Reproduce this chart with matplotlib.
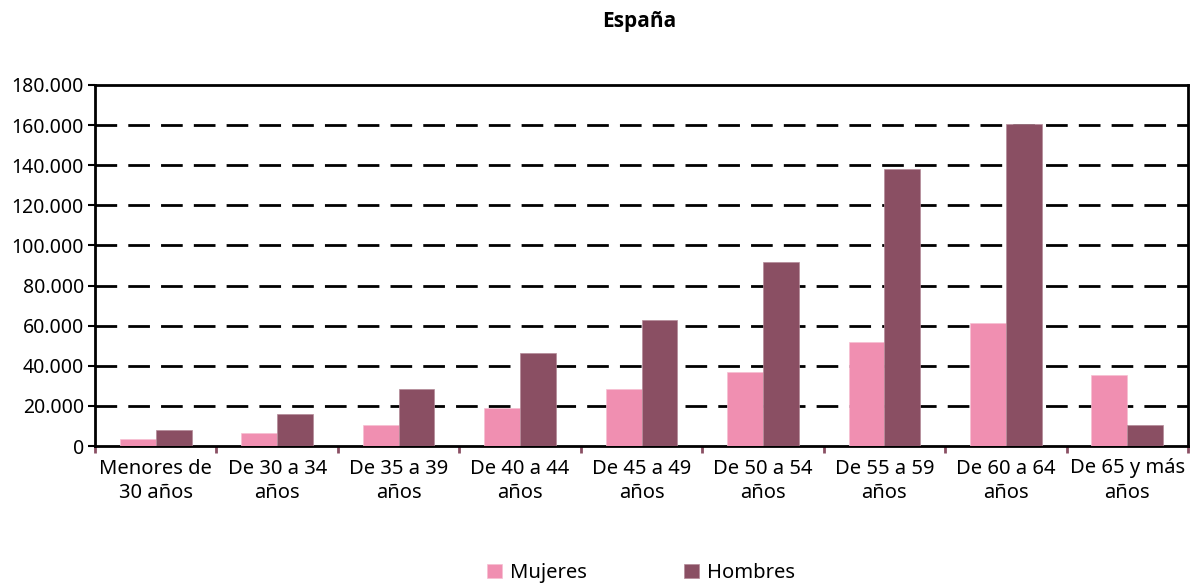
import matplotlib
matplotlib.use("Agg")
import matplotlib.pyplot as plt
import numpy as np
from matplotlib.ticker import FuncFormatter, FixedLocator

plt.rcParams['font.family'] = ['Noto Sans', 'DejaVu Sans']

categories = ["Menores de\n30 años", "De 30 a 34\naños", "De 35 a 39\naños",
              "De 40 a 44\naños", "De 45 a 49\naños", "De 50 a 54\naños",
              "De 55 a 59\naños", "De 60 a 64\naños", "De 65 y más\naños"]
mujeres = [3600, 6500, 10500, 18900, 28400, 36700, 51700, 61200, 35200]
hombres = [7800, 16100, 28400, 46200, 62800, 91600, 138300, 160400, 10300]
yticks = [0, 20000, 40000, 60000, 80000, 100000, 120000, 140000, 160000, 180000]

c_muj = "#F08FB1"
c_hom = "#8A4F63"

fig = plt.figure(figsize=(12.04, 5.84), dpi=100)
ax = fig.add_axes([95/1204, 1-446/584, (1188-95)/1204, (446-85)/584])

x = np.arange(len(categories))
w = 0.295
ax.bar(x - w/2, mujeres, w, color=c_muj, edgecolor="#F6C0D2", linewidth=0.5, label="Mujeres", zorder=3)
ax.bar(x + w/2, hombres, w, color=c_hom, edgecolor="#B48A98", linewidth=0.5, label="Hombres", zorder=3)

ax.set_xlim(-0.5, len(categories) - 0.5)
ax.set_ylim(0, 180000)
ax.set_yticks(yticks)
ax.yaxis.set_major_formatter(FuncFormatter(lambda v, p: f"{int(v):,}".replace(",", ".")))

for v in yticks[1:-1]:
    ax.axhline(v, color="black", lw=2.0, linestyle=(0, (7.8, 4.0)), zorder=2)

ax.set_xticks(x)
ax.set_xticklabels(categories, fontsize=14.5, linespacing=1.3)
ax.tick_params(axis='x', which='major', length=0, pad=9)
ax.xaxis.set_minor_locator(FixedLocator(np.arange(-0.5, len(categories), 1.0)))
ax.tick_params(axis='x', which='minor', length=5, width=2, color=c_hom, direction='out')
ax.tick_params(axis='y', length=5, width=1.5, labelsize=14, pad=3)

for s in ax.spines.values():
    s.set_linewidth(2)
    s.set_color("black")

fig.text(639/1204, 1-22/584, "España", ha="center", va="center", fontsize=15,
         fontweight="bold", family=["Open Sans", "DejaVu Sans"])

leg = fig.legend(loc="center", bbox_to_anchor=(641/1204, 1-573/584), ncol=2, frameon=False,
                 fontsize=14.5, handlelength=0.75, handleheight=0.75, columnspacing=4.8, handletextpad=0.4)

fig.savefig("out.png", dpi=100)
